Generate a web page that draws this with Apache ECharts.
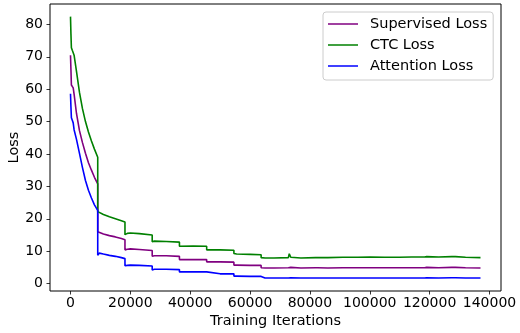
<!DOCTYPE html>
<html>
<head>
<meta charset="utf-8">
<script src="https://cdn.jsdelivr.net/npm/echarts@6/dist/echarts.min.js"></script>
<style>
  html, body { margin: 0; padding: 0; background: #fff; }
  #chart { width: 520px; height: 333px; }
</style>
</head>
<body>
<div id="chart"></div>
<script>
// training iterations (repeated x = vertical drop at an epoch boundary)
const iters = [
  0, 150, 300, 600, 900, 1200, 2000, 3000, 4000, 5000, 6000, 7000, 8000, 9100,
  9100, 9600, 11000, 13000, 15000, 17000, 18200,
  18200, 19000, 20000, 23000, 27300,
  27300, 28000, 32000, 36400,
  36400, 37000, 41000, 45500,
  45500, 46000, 50000, 54600,
  54600, 55500, 60000, 63700,
  63700, 65000, 68000, 72800, 73100, 73600, 77000, 81900, 82200, 82600, 86000,
  91000, 91200, 91600, 96000, 100100, 100300, 100700, 105000, 109200, 109500,
  109900, 114000, 118300, 118600, 119000, 123000, 127400, 127900, 128600, 132000, 137000,
]

const supervisedLoss = [
  70.5, 66, 61.3, 60.8, 60.4, 58.5, 52.5, 47.2, 43.5, 40.2, 37.3, 35, 32.8, 30.8,
  16.0, 15.8, 15.3, 14.8, 14.4, 13.9, 13.5,
  10.4, 10.6, 10.7, 10.5, 10.2,
  8.4, 8.6, 8.6, 8.4,
  7.4, 7.5, 7.4, 7.4,
  6.7, 6.8, 6.7, 6.6,
  5.7, 5.7, 5.6, 5.6,
  4.9, 4.8, 4.8, 4.9, 5.5, 5.0, 4.8, 4.9, 5.1, 4.9, 4.8,
  4.9, 5.1, 4.9, 4.9, 4.9, 5.1, 4.9, 4.9, 4.9, 5.0,
  4.9, 4.9, 4.9, 5.3, 5.0, 4.9, 5.0, 5.4, 5.0, 4.9, 4.8,
]

const ctcLoss = [
  82.4, 77, 72.8, 72.0, 72.1, 70.5, 65.5, 59, 54, 50, 46.8, 44, 41.5, 39.0,
  22.2, 22.0, 21.3, 20.6, 20.0, 19.4, 19.0,
  15.1, 15.5, 15.6, 15.4, 15.0,
  12.9, 13.1, 13.0, 12.8,
  11.5, 11.7, 11.6, 11.5,
  10.4, 10.5, 10.4, 10.3,
  9.3, 9.1, 9.0, 8.9,
  8.0, 7.9, 7.9, 8.0, 9.2, 8.1, 7.9, 8.0, 8.5, 8.0, 8.0,
  8.1, 8.5, 8.0, 8.1, 8.2, 8.5, 8.1, 8.1, 8.1, 8.4,
  8.1, 8.2, 8.2, 8.8, 8.3, 8.2, 8.3, 8.8, 8.3, 8.1, 8.0,
]

const attentionLoss = [
  58.6, 54.5, 51.2, 50.4, 49.6, 47.5, 44.5, 40.2, 35.8, 31.8, 28.8, 26.4, 24.3, 22.6,
  8.7, 9.4, 9.1, 8.7, 8.4, 8.0, 7.7,
  5.5, 5.6, 5.7, 5.6, 5.4,
  4.2, 4.4, 4.4, 4.3,
  3.6, 3.7, 3.6, 3.6,
  3.0, 3.1, 3.0, 3.0,
  2.3, 2.3, 2.2, 2.2,
  1.8, 1.7, 1.7, 1.7, 2.0, 1.8, 1.7, 1.7, 1.9, 1.7, 1.7,
  1.7, 1.9, 1.7, 1.7, 1.7, 1.9, 1.7, 1.7, 1.7, 1.9,
  1.7, 1.7, 1.7, 2.0, 1.8, 1.7, 1.8, 2.0, 1.8, 1.7, 1.7,
]

const xTicks = [0, 20000, 40000, 60000, 80000, 100000, 120000, 140000]
const yTicks = [0, 10, 20, 30, 40, 50, 60, 70, 80]

const font = 'DejaVu Sans'

function lineSeries(name, color, values) {
  return {
    name,
    type: 'line',
    showSymbol: false,
    symbol: 'none',
    lineStyle: { color, width: 1.6 },
    itemStyle: { color },
    data: iters.map((x, i) => [x, values[i]]),
  }
}

const chart = echarts.init(document.getElementById('chart'), null, { renderer: 'canvas' })
chart.setOption({
  animation: false,
  grid: {
    left: 50,
    right: 19,
    top: 4,
    bottom: 42,
    show: true,
    borderColor: '#000',
    borderWidth: 1,
    containLabel: false,
    outerBoundsMode: 'none',
  },
  legend: {
    orient: 'vertical',
    left: 323,
    top: 12,
    icon: 'rect',
    itemWidth: 30,
    itemHeight: 1.5,
    itemGap: 5,
    padding: [4, 6, 6, 5],
    backgroundColor: 'rgba(255,255,255,0.8)',
    borderColor: '#cccccc',
    borderWidth: 1,
    borderRadius: 3,
    textStyle: { fontFamily: font, fontSize: 14.5, color: '#000', lineHeight: 16, padding: [0, 0, 0, 7] },
    data: ['Supervised Loss', 'CTC Loss', 'Attention Loss'],
  },
  xAxis: {
    type: 'value',
    min: -6850,
    max: 143850,
    name: 'Training Iterations',
    nameLocation: 'middle',
    nameGap: 23,
    nameMoveOverlap: false,
    nameTextStyle: { fontFamily: font, fontSize: 14.5, color: '#000' },
    splitLine: { show: false },
    axisLine: { show: false, onZero: false },
    axisTick: { show: true, inside: false, length: 3.5, lineStyle: { color: '#000', width: 0.8 }, customValues: xTicks },
    axisLabel: { fontFamily: font, fontSize: 14, color: '#000', margin: 5, customValues: xTicks, formatter: (v) => String(v) },
  },
  yAxis: {
    type: 'value',
    min: -2.3,
    max: 86.3,
    name: 'Loss',
    nameLocation: 'middle',
    nameGap: 28,
    nameRotate: 90,
    nameMoveOverlap: false,
    nameTextStyle: { fontFamily: font, fontSize: 14.5, color: '#000' },
    splitLine: { show: false },
    axisLine: { show: false, onZero: false },
    axisTick: { show: true, inside: false, length: 3.5, lineStyle: { color: '#000', width: 0.8 }, customValues: yTicks },
    axisLabel: { fontFamily: font, fontSize: 14, color: '#000', margin: 7, customValues: yTicks, formatter: (v) => String(v) },
  },
  series: [
    lineSeries('Supervised Loss', '#800080', supervisedLoss),
    lineSeries('CTC Loss', '#008000', ctcLoss),
    lineSeries('Attention Loss', '#0000ff', attentionLoss),
  ],
})
</script>
</body>
</html>
